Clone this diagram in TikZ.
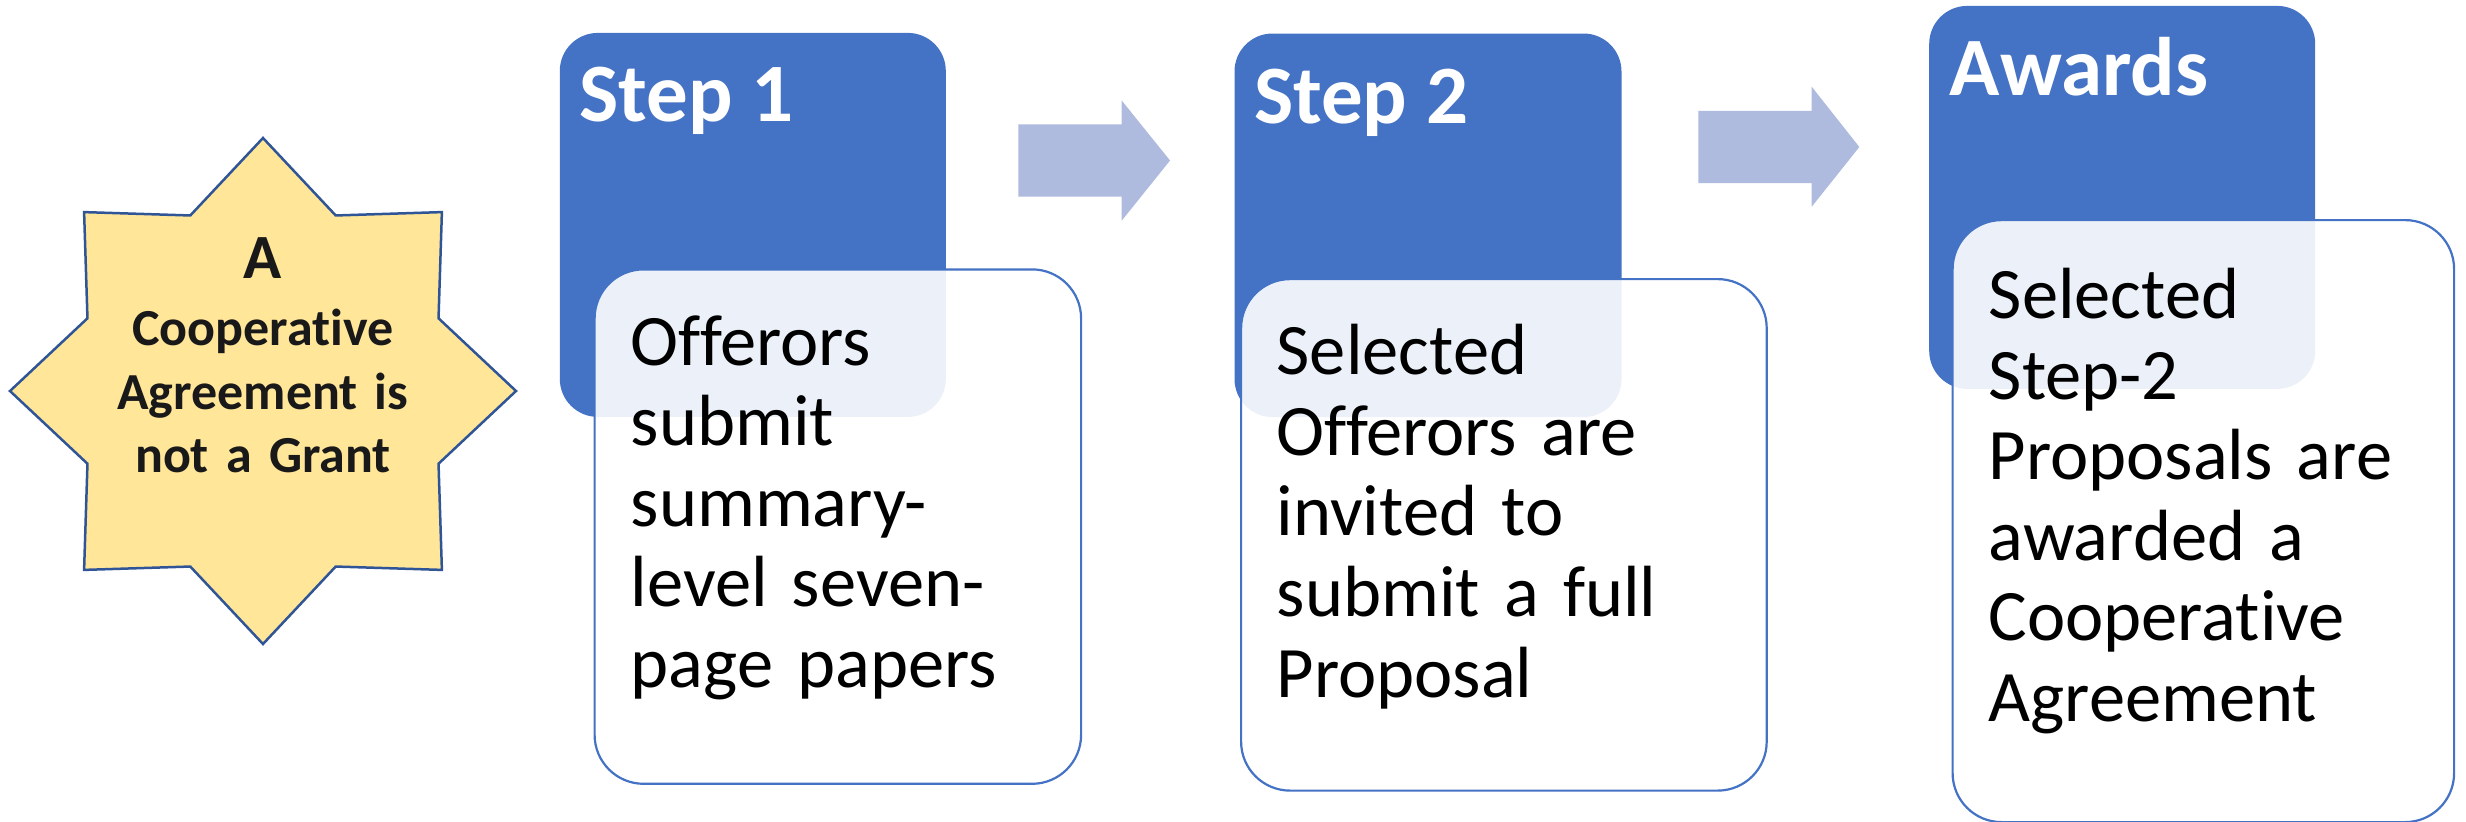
\documentclass[tikz,border=0pt]{standalone}
\usepackage{fontspec}
\setmainfont{Carlito}[Ligatures=NoCommon]
\usetikzlibrary{calc}
\definecolor{accent}{HTML}{4472C4}
\definecolor{arrowc}{HTML}{AEBBDE}
\definecolor{starfill}{HTML}{FFE699}
\definecolor{starline}{HTML}{2F5597}
\tikzset{
  darkbox/.style={fill=accent, draw=none, rounded corners=38pt, anchor=north west, inner sep=0pt},
  lightbox/.style={fill=white, fill opacity=0.9, draw=accent, draw opacity=1, line width=2.2pt, rounded corners=49pt, anchor=north west, inner sep=0pt},
  titletext/.style={anchor=base west, inner sep=0pt, text=white, font=\fontsize{83}{90}\selectfont\bfseries},
  bodytext/.style={anchor=base west, inner sep=0pt, text=black, text width=560pt, align=left, font=\fontsize{72.5}{80.6}\selectfont},
  blockarrow/.style={fill=arrowc, draw=none},
  starshape/.style={fill=starfill, draw=starline, line width=2.5pt, line join=miter},
}
\begin{document}
\begin{tikzpicture}[x=1pt, y=-1pt]
\useasboundingbox (0,0) rectangle (2466,822);

% star
\coordinate (sc) at (263,391);
\begin{scope}[shift={(sc)}]
\draw[starshape] (90:253) \foreach \k in {1,...,15}{ -- ({90+22.5*\k}:{mod(\k,2)==0 ? 253 : 190}) } -- cycle;
\end{scope}
\node[anchor=base, inner sep=0pt, text width=420pt, align=center, text=black!90, font=\bfseries\fontsize{52}{63.7}\selectfont] (startext) at (263,278.4)
  {{\fontsize{63}{63}\selectfont A}\\[3.4pt] Cooperative\\ Agreement is\\ not a Grant};

% dark boxes
\node[darkbox, minimum width=386pt, minimum height=384pt] (d1) at (559.6,32.7) {};
\node[darkbox, minimum width=387pt, minimum height=383.5pt] (d2) at (1234.3,33.3) {};
\node[darkbox, minimum width=386pt, minimum height=383pt] (d3) at (1929,5.7) {};

% light boxes
\node[lightbox, minimum width=486.5pt, minimum height=514.4pt] (l1) at (593.5,268.3) {};
\node[lightbox, minimum width=525.6pt, minimum height=511.5pt] (l2) at (1240,278) {};
\node[lightbox, minimum width=501.5pt, minimum height=602pt] (l3) at (1951.5,219) {};

% titles
\node[titletext] (t1) at ($(d1.north west)+(19.5,89)$) {Step 1};
\node[titletext] (t2) at ($(d2.north west)+(19.5,90)$) {Step 2};
\node[titletext] (t3) at ($(d3.north west)+(20.5,89.3)$) {Awards};

% body texts
\node[bodytext] (b1) at ($(l1.north west)+(37,96.7)$) {Offerors\\ submit\\ summary-\\ level seven-\\ page papers};
\node[bodytext] (b2) at ($(l2.north west)+(36.5,96.7)$) {Selected\\ Offerors are\\ invited to\\ submit a full\\ Proposal};
\node[bodytext] (b3) at ($(l3.north west)+(37,99.4)$) {Selected\\ Step-2\\ Proposals are\\ awarded a\\ Cooperative\\ Agreement};

% block arrows
\coordinate (a1) at (1018.3,160.5);
\fill[blockarrow] (a1) ++(0,-36.2) -- ++(103.4,0) -- ++(0,-23.8) -- (1170,160.5) -- ++(-48.3,60.2) -- ++(0,-24) -- ++(-103.4,0) -- cycle;
\coordinate (a2) at (1698.3,147);
\fill[blockarrow] (a2) ++(0,-36.2) -- ++(113.4,0) -- ++(0,-24.1) -- (1859.3,147) -- ++(-47.6,59.7) -- ++(0,-23.5) -- ++(-113.4,0) -- cycle;
\end{tikzpicture}
\end{document}
